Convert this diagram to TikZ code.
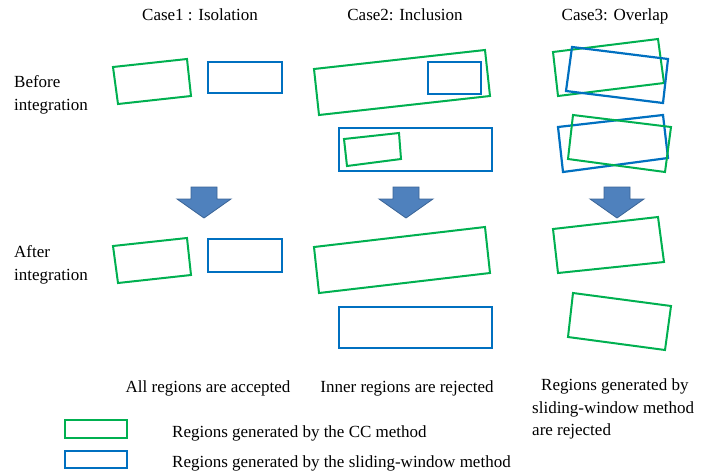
\documentclass[tikz,border=0pt]{standalone}
\usepackage{fontspec}
\setmainfont{Liberation Serif}
\begin{document}
\begin{tikzpicture}[x=1pt,y=-1pt,
  ccbox/.style={draw=ccgreen,line width=2pt,line join=miter},
  swbox/.style={draw=swblue,line width=2.2pt,line join=miter},
  label/.style={inner sep=0pt,font=\fontsize{17}{21}\selectfont},
  downarrow/.style={fill=arrowfill,draw=arrowedge,line width=0.8pt,line join=miter}]
\definecolor{ccgreen}{HTML}{00B050}
\definecolor{swblue}{HTML}{0070C0}
\definecolor{arrowfill}{HTML}{4F81BD}
\definecolor{arrowedge}{HTML}{3A6496}
\useasboundingbox (0,0) rectangle (717,472);

% column titles
\node[label,anchor=base] (t1) at (200,20) {Case1 : Isolation};
\node[label,anchor=base] (t2) at (405,20) {Case2: Inclusion};
\node[label,anchor=base] (t3) at (615,20) {Case3: Overlap};

% row titles
\node[label,anchor=base west] (b1) at (14,87) {Before};
\node[label,anchor=base west] (b2) at (14,110) {integration};
\node[label,anchor=base west] (a1) at (14,257) {After};
\node[label,anchor=base west] (a2) at (14,280) {integration};

% Case 1, before
\draw[ccbox] (113,67) -- (187,59) -- (191,96) -- (118,104) -- cycle;
\draw[swbox] (208,62) rectangle (282,93);
% Case 2, before
\draw[ccbox] (314,69) -- (485,50) -- (490,96) -- (319,115) -- cycle;
\draw[swbox] (428,62) rectangle (481,94);
\draw[swbox] (339,128) rectangle (492,171);
\draw[ccbox] (344,139) -- (399,133) -- (401,159) -- (347,166) -- cycle;
% Case 3, before
\draw[ccbox] (553,52) -- (658,39) -- (664,83) -- (558,96) -- cycle;
\draw[swbox] (572,47) -- (668,59) -- (663,103) -- (566,91) -- cycle;
\draw[swbox] (558,127) -- (663,115) -- (668,158) -- (563,172) -- cycle;
\draw[ccbox] (573,115) -- (671,127) -- (665,172) -- (568,159) -- cycle;

% integration arrows
\foreach \cx in {204,406,617}{
  \draw[downarrow] (\cx-13,187) -- (\cx+13,187) -- (\cx+13,199) -- (\cx+27,199)
    -- (\cx,218) -- (\cx-27,199) -- (\cx-13,199) -- cycle;
}

% Case 1, after
\draw[ccbox] (113,246) -- (187,238) -- (191,275) -- (118,283) -- cycle;
\draw[swbox] (208,239) rectangle (282,272);
% Case 2, after
\draw[ccbox] (314,247) -- (485,227) -- (490,273) -- (319,293) -- cycle;
\draw[swbox] (339,307) rectangle (492,348);
% Case 3, after
\draw[ccbox] (553,229) -- (658,217) -- (664,262) -- (558,273) -- cycle;
\draw[ccbox] (573,293) -- (671,306) -- (665,350) -- (568,337) -- cycle;

% outcomes
\node[label,anchor=base] (r1) at (208,392) {All regions are accepted};
\node[label,anchor=base] (r2) at (407,392) {Inner regions are rejected};
\node[label,anchor=base west] (r3a) at (541,390) {Regions generated by};
\node[label,anchor=base west] (r3b) at (532,413) {sliding-window method};
\node[label,anchor=base west] (r3c) at (532,435) {are rejected};

% legend
\draw[ccbox] (65,420) rectangle (127,438);
\node[label,anchor=base west] (l1) at (172,437) {Regions generated by the CC method};
\draw[swbox] (65,451) rectangle (127,468);
\node[label,anchor=base west] (l2) at (172,467) {Regions generated by the sliding-window method};
\end{tikzpicture}
\end{document}
